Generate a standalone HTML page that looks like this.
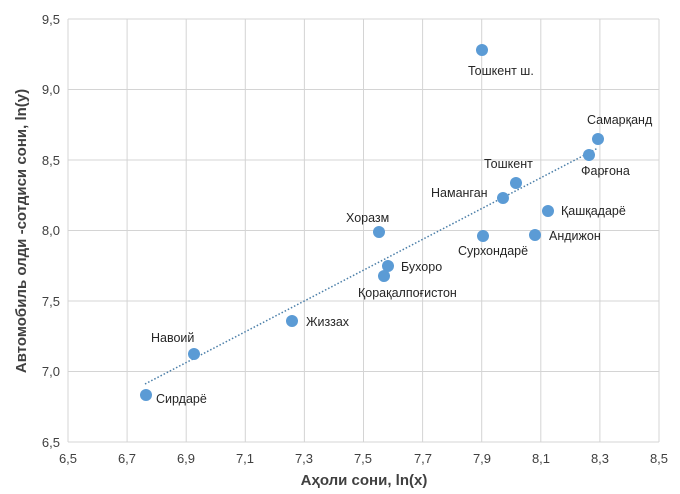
<!DOCTYPE html>
<html><head><meta charset="utf-8"><style>
body{margin:0;background:#fff;}
svg{display:block;font-family:"Liberation Sans",Arial,sans-serif;}
</style></head><body>
<svg width="680" height="494" viewBox="0 0 680 494" xmlns="http://www.w3.org/2000/svg">
<g stroke="#d4d4d4" stroke-width="1">
<line x1="68" y1="19" x2="659" y2="19"/>
<line x1="68" y1="89.5" x2="659" y2="89.5"/>
<line x1="68" y1="160" x2="659" y2="160"/>
<line x1="68" y1="230.5" x2="659" y2="230.5"/>
<line x1="68" y1="301" x2="659" y2="301"/>
<line x1="68" y1="371.5" x2="659" y2="371.5"/>
<line x1="68" y1="442" x2="659" y2="442"/>
<line x1="68" y1="19" x2="68" y2="442"/>
<line x1="127.1" y1="19" x2="127.1" y2="442"/>
<line x1="186.2" y1="19" x2="186.2" y2="442"/>
<line x1="245.3" y1="19" x2="245.3" y2="442"/>
<line x1="304.4" y1="19" x2="304.4" y2="442"/>
<line x1="363.5" y1="19" x2="363.5" y2="442"/>
<line x1="422.6" y1="19" x2="422.6" y2="442"/>
<line x1="481.7" y1="19" x2="481.7" y2="442"/>
<line x1="540.8" y1="19" x2="540.8" y2="442"/>
<line x1="599.9" y1="19" x2="599.9" y2="442"/>
<line x1="659" y1="19" x2="659" y2="442"/>
</g>
<g font-size="13" fill="#404040" text-anchor="end">
<text x="60" y="24">9,5</text><text x="60" y="94">9,0</text><text x="60" y="165">8,5</text>
<text x="60" y="235">8,0</text><text x="60" y="306">7,5</text><text x="60" y="376">7,0</text><text x="60" y="447">6,5</text>
</g>
<g font-size="13" fill="#404040" text-anchor="middle">
<text x="68" y="463">6,5</text><text x="127" y="463">6,7</text><text x="186" y="463">6,9</text><text x="245" y="463">7,1</text>
<text x="304" y="463">7,3</text><text x="363" y="463">7,5</text><text x="423" y="463">7,7</text><text x="482" y="463">7,9</text>
<text x="541" y="463">8,1</text><text x="600" y="463">8,3</text><text x="659" y="463">8,5</text>
</g>
<text x="364" y="485" font-size="15" font-weight="bold" fill="#404040" text-anchor="middle">Аҳоли сони, ln(x)</text>
<text transform="translate(26,231) rotate(-90)" font-size="15" font-weight="bold" fill="#404040" text-anchor="middle">Автомобиль олди -сотдиси сони, ln(y)</text>
<line x1="145" y1="384" x2="598" y2="148" stroke="#4a7ea8" stroke-width="1.5" stroke-dasharray="1.5,2"/>
<g fill="#5b9bd5">
<circle cx="482" cy="50" r="6"/><circle cx="598" cy="139" r="6"/><circle cx="589" cy="155" r="6"/>
<circle cx="516" cy="183" r="6"/><circle cx="503" cy="198" r="6"/><circle cx="548" cy="211" r="6"/>
<circle cx="379" cy="232" r="6"/><circle cx="483" cy="236" r="6"/><circle cx="535" cy="235" r="6"/>
<circle cx="388" cy="266" r="6"/><circle cx="384" cy="276" r="6"/><circle cx="292" cy="321" r="6"/>
<circle cx="194" cy="354" r="6"/><circle cx="146" cy="395" r="6"/>
</g>
<g font-size="12.5" fill="#262626">
<text x="468" y="75">Тошкент ш.</text>
<text x="587" y="124">Самарқанд</text>
<text x="581" y="175">Фарғона</text>
<text x="484" y="168">Тошкент</text>
<text x="431" y="197">Наманган</text>
<text x="561" y="215">Қашқадарё</text>
<text x="346" y="222">Хоразм</text>
<text x="458" y="255">Сурхондарё</text>
<text x="549" y="240">Андижон</text>
<text x="401" y="271">Бухоро</text>
<text x="358" y="297">Қорақалпоғистон</text>
<text x="306" y="326">Жиззах</text>
<text x="151" y="342">Навоий</text>
<text x="156" y="403">Сирдарё</text>
</g>
</svg>
</body></html>
